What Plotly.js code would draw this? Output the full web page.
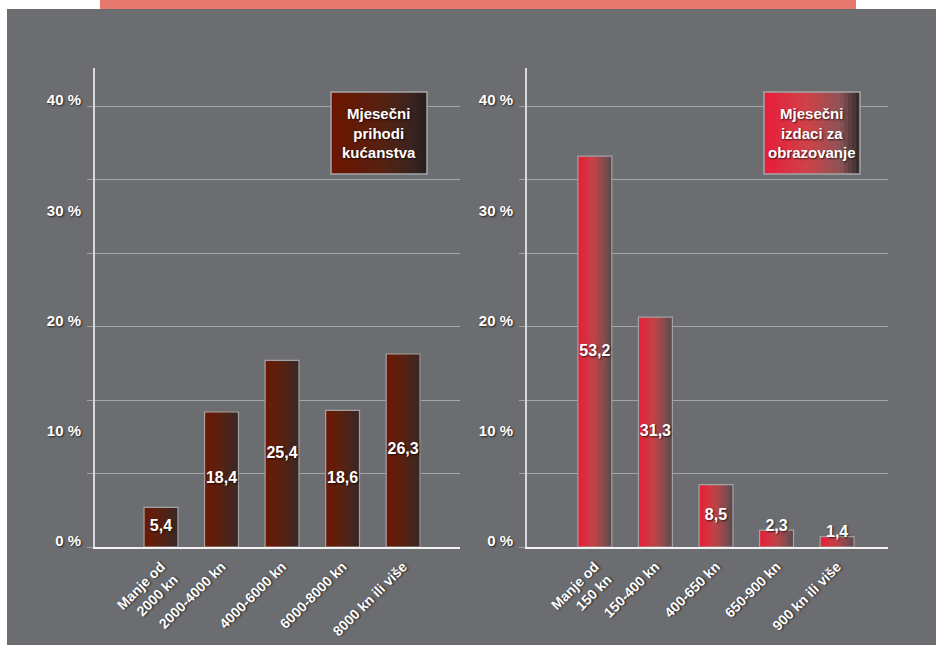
<!DOCTYPE html>
<html>
<head>
<meta charset="utf-8">
<script src="https://cdn.plot.ly/plotly-3.0.1.min.js"></script>
<style>html,body{margin:0;padding:0;background:#fff;}#chart{width:936px;height:646px;}</style>
</head>
<body>
<div id="chart"></div>
<script>
// ---- data ----
const incomeCats = ['Manje od<br>2000 kn', '2000-4000 kn', '4000-6000 kn', '6000-8000 kn', '8000 kn ili više'];
const incomeVals = [5.4, 18.4, 25.4, 18.6, 26.3];
const eduCats = ['Manje od<br>150 kn', '150-400 kn', '400-650 kn', '650-900 kn', '900 kn ili više'];
const eduVals = [53.2, 31.3, 8.5, 2.3, 1.4];
const yTickVals = [0, 15, 30, 45, 60];
const yTickText = ['0 %', '10 %', '20 %', '30 %', '40 %'];
const incomeTitle = 'Mjesečni<br>prihodi<br>kućanstva';
const eduTitle = 'Mjesečni<br>izdaci za<br>obrazovanje';

// ---- styling helpers ----
const W = 936, H = 646;
const FONT = 'Liberation Sans, Arial, Helvetica, sans-serif';
const SHADOW = '1px 1px 2px rgba(0,0,0,0.7)';
const BG = '#6c6d71';
const GRID = '#a4a5a8';

function lerpStops(stops, t) {
  for (let i = 0; i < stops.length - 1; i++) {
    const [t0, c0] = stops[i], [t1, c1] = stops[i + 1];
    if (t >= t0 && t <= t1) {
      const f = (t - t0) / (t1 - t0 || 1);
      const c = c0.map((v, k) => Math.round(v + (c1[k] - v) * f));
      return 'rgb(' + c.join(',') + ')';
    }
  }
  const c = stops[stops.length - 1][1];
  return 'rgb(' + c.join(',') + ')';
}

const incomeBarStops = [[0, [110, 24, 4]], [0.5, [88, 34, 18]], [1, [56, 40, 37]]];
const eduBarStops = [[0, [232, 30, 56]], [0.45, [196, 66, 70]], [0.85, [118, 76, 80]], [1, [82, 72, 76]]];
const incomeBoxStops = [[0, [108, 20, 0]], [0.55, [85, 34, 18]], [0.85, [55, 36, 32]], [1, [38, 30, 30]]];
const eduBoxStops = [[0, [232, 28, 58]], [0.45, [208, 66, 72]], [0.8, [140, 82, 84]], [1, [45, 42, 45]]];

const BAR_W = 0.56;
const STRIPS = 14;

function gradientBars(cats, vals, stops, xa, ya, yl) {
  const traces = [];
  for (let i = 0; i < STRIPS; i++) {
    const off = -BAR_W / 2 + i * BAR_W / STRIPS;
    traces.push({
      type: 'bar', x: cats, y: vals, xaxis: xa, yaxis: ya,
      offset: off, width: BAR_W - i * BAR_W / STRIPS,
      marker: {color: lerpStops(stops, (i + 0.5) / STRIPS), line: {width: 0}},
      hoverinfo: 'skip', showlegend: false
    });
  }
  traces.push({
    type: 'bar', x: cats, y: vals, xaxis: xa, yaxis: ya,
    offset: -BAR_W / 2, width: BAR_W,
    marker: {color: 'rgba(0,0,0,0)', line: {color: '#a3a3a5', width: 1.2}},
    hovertemplate: '%{y}<extra></extra>', showlegend: false
  });
  traces.push({
    type: 'scatter', mode: 'text', x: cats, xaxis: xa, yaxis: ya,
    y: vals.map(v => v < 4 ? v + 0.45 : v / 2),
    text: vals.map(v => v.toFixed(1).replace('.', ',')),
    textposition: 'middle center',
    textfont: {family: FONT, size: 16, color: '#ffffff', weight: 'bold', shadow: SHADOW},
    cliponaxis: false, hoverinfo: 'skip', showlegend: false
  });
  // invisible trace that attaches the tick-label axis
  traces.push({
    type: 'scatter', mode: 'markers', x: [cats[0]], y: [0], xaxis: xa, yaxis: yl,
    marker: {opacity: 0, size: 1}, hoverinfo: 'skip', showlegend: false
  });
  return traces;
}

const data = [].concat(
  gradientBars(incomeCats, incomeVals, incomeBarStops, 'x', 'y', 'y3'),
  gradientBars(eduCats, eduVals, eduBarStops, 'x2', 'y2', 'y4')
);

const Y_RANGE = [0, 65.2];
const yDomain = [99 / H, 578 / H];

function xAxis(domain, range, anchor) {
  return {
    domain: domain, range: range, type: 'category', anchor: anchor,
    showgrid: false, zeroline: false, ticks: '',
    showline: true, linecolor: '#f2f2f2', linewidth: 2,
    tickangle: -45, ticklabelstandoff: 4,
    tickfont: {family: FONT, size: 14, color: '#ffffff', weight: 'bold', shadow: SHADOW},
    fixedrange: true
  };
}
function yGridAxis(anchor) {
  return {
    domain: yDomain, range: Y_RANGE, anchor: anchor,
    tickmode: 'linear', tick0: 0, dtick: 10,
    showgrid: true, gridcolor: GRID, gridwidth: 1,
    ticks: 'outside', ticklen: 6, tickcolor: GRID, tickwidth: 1,
    showticklabels: false, zeroline: false,
    showline: true, linecolor: '#d9d9db', linewidth: 1.5,
    fixedrange: true
  };
}
function yLabelAxis(overlay, anchor) {
  return {
    overlaying: overlay, anchor: anchor, range: Y_RANGE, side: 'left',
    tickmode: 'array', tickvals: yTickVals, ticktext: yTickText,
    showgrid: false, zeroline: false, showline: false, ticks: '',
    ticklabelstandoff: 13, ticklabelshift: -6,
    tickfont: {family: FONT, size: 15, color: '#ffffff', weight: 'bold', shadow: SHADOW},
    fixedrange: true
  };
}

// background, top band and legend boxes (gradient strips)
const shapes = [
  {type: 'rect', xref: 'paper', yref: 'paper', layer: 'below',
   x0: 7 / W, x1: 1, y0: 1 / H, y1: (H - 9) / H, fillcolor: BG, line: {width: 0}},
  {type: 'rect', xref: 'paper', yref: 'paper', layer: 'below',
   x0: 100 / W, x1: 856 / W, y0: (H - 9) / H, y1: 1, fillcolor: '#e5786f', line: {width: 0}}
];
function legendBox(x0, x1, y0, y1, stops) {
  const n = 24;
  for (let i = 0; i < n; i++) {
    const a = x0 + (x1 - x0) * i / n;
    shapes.push({type: 'rect', xref: 'paper', yref: 'paper', layer: 'above',
      x0: a / W, x1: x1 / W, y0: (H - y1) / H, y1: (H - y0) / H,
      fillcolor: lerpStops(stops, (i + 0.5) / n), line: {width: 0}});
  }
  shapes.push({type: 'rect', xref: 'paper', yref: 'paper', layer: 'above',
    x0: x0 / W, x1: x1 / W, y0: (H - y1) / H, y1: (H - y0) / H,
    fillcolor: 'rgba(0,0,0,0)', line: {color: '#a5a5a8', width: 1.5}});
}
legendBox(331, 427, 92, 174, incomeBoxStops);
legendBox(764, 860, 92, 174, eduBoxStops);

const annFont = {family: FONT, size: 15, color: '#ffffff', weight: 'bold', shadow: SHADOW};
const annotations = [
  {xref: 'paper', yref: 'paper', x: 379 / W, y: (H - 133) / H, text: incomeTitle,
   showarrow: false, align: 'center', xanchor: 'center', yanchor: 'middle', font: annFont},
  {xref: 'paper', yref: 'paper', x: 812 / W, y: (H - 133) / H, text: eduTitle,
   showarrow: false, align: 'center', xanchor: 'center', yanchor: 'middle', font: annFont}
];

const layout = {
  width: W, height: H,
  margin: {l: 0, r: 0, t: 0, b: 0, pad: 0},
  paper_bgcolor: '#ffffff', plot_bgcolor: 'rgba(0,0,0,0)',
  barmode: 'overlay', showlegend: false,
  xaxis: xAxis([95 / W, 460 / W], [-1.09, 4.94], 'y'),
  xaxis2: xAxis([527 / W, 888 / W], [-1.12, 4.84], 'y2'),
  yaxis: yGridAxis('x'),
  yaxis2: yGridAxis('x2'),
  yaxis3: yLabelAxis('y', 'x'),
  yaxis4: yLabelAxis('y2', 'x2'),
  shapes: shapes, annotations: annotations,
  hovermode: 'closest'
};

Plotly.newPlot('chart', data, layout, {displayModeBar: false});
</script>
</body>
</html>
